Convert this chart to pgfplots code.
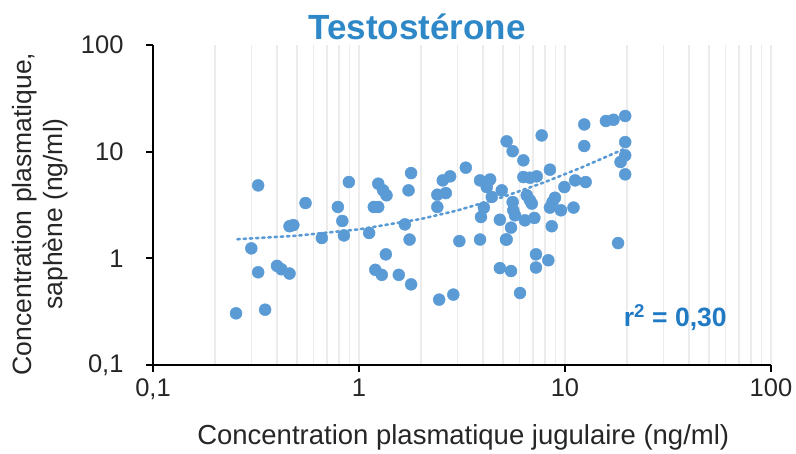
\documentclass[border=0pt]{standalone}
\usepackage{pgfplots}
\pgfplotsset{compat=1.18}
\usepackage{fontspec}
\setmainfont{Liberation Sans}
\definecolor{ptblue}{RGB}{91,155,213}
\definecolor{titleblue}{RGB}{46,136,199}
\definecolor{rblue}{RGB}{32,122,196}
\definecolor{gridgray}{RGB}{236,236,236}
\begin{document}
\begin{tikzpicture}
\path[use as bounding box] (0,0) rectangle (796pt,454pt);
\begin{axis}[
  at={(153pt,89pt)}, anchor=south west,
  scale only axis, width=618pt, height=320pt,
  xmode=log, ymode=log,
  xmin=0.1, xmax=100, ymin=0.1, ymax=100,
  axis x line*=bottom, axis y line*=left,
  axis line style={black, line width=2.2pt, -},
  xtick={0.1,1,10,100}, xticklabels={{0,1},1,10,100},
  ytick={0.1,1,10,100}, yticklabels={{0,1},1,10,100},
  minor xtick={0.2,0.3,0.4,0.5,0.6,0.7,0.8,0.9,2,3,4,5,6,7,8,9,20,30,40,50,60,70,80,90},
  minor ytick={},
  xminorgrids, xmajorgrids, ymajorgrids=false,
  grid style={gridgray, line width=1.3pt},
  minor grid style={gridgray, line width=1.3pt},
  tick style={black, line width=2pt},
  major tick length=7pt, minor tick length=0pt,
  tick align=outside,
  xtick pos=bottom, ytick pos=left,
  tick label style={font=\fontsize{25.5pt}{29pt}\selectfont, text=black!85},
  xticklabel style={yshift=-3pt},
  yticklabel style={xshift=-19pt},
  title={Testostérone},
  title style={font=\fontsize{35pt}{40pt}\selectfont\bfseries, text=titleblue, at={(axis description cs:0.427,1.037)}, anchor=center},
  xlabel={Concentration plasmatique jugulaire (ng/ml)},
  xlabel style={font=\fontsize{27.5pt}{31pt}\selectfont, text=black!85, at={(axis description cs:0.502,-0.225)}, anchor=center},
  ylabel={Concentration plasmatique,\\saphène (ng/ml)},
  ylabel style={font=\fontsize{26.5pt}{31pt}\selectfont, text=black!85, align=center, at={(axis description cs:-0.183,0.472)}, anchor=center},
  clip=false,
]
\addplot[only marks, mark=*, mark size=6pt, mark options={fill=ptblue, draw=ptblue}] coordinates {
(0.253,0.305) (0.324,4.83) (0.30,1.24) (0.324,0.74) (0.35,0.33)
(0.40,0.85) (0.42,0.79) (0.46,0.72) (0.46,2.00) (0.48,2.05)
(0.55,3.30) (0.66,1.55) (0.79,3.03) (0.83,2.24) (0.845,1.64)
(0.893,5.19) (1.12,1.73) (1.18,3.03) (1.24,3.03) (1.24,5.01)
(1.31,4.34) (1.36,3.90) (1.35,1.09) (1.20,0.78) (1.29,0.70)
(1.79,6.30) (1.74,4.34) (1.67,2.08) (1.76,1.50) (1.56,0.70)
(1.79,0.57) (2.45,0.41) (2.87,0.457) (3.07,1.45) (3.30,7.08)
(2.55,5.38) (2.77,5.87) (2.40,3.95) (2.64,4.09) (2.40,3.03)
(3.87,5.38) (4.33,5.49) (4.17,4.66) (4.41,3.76) (4.93,4.34)
(4.04,2.99) (3.91,2.44) (4.83,2.30) (3.87,1.50) (5.17,1.50)
(4.83,0.81) (12.4,18.0) (15.8,19.4) (17.2,19.9) (19.6,21.6)
(19.6,12.3) (19.6,9.23) (18.6,8.0) (19.6,6.13) (18.1,1.39)
(12.4,11.3) (7.71,14.2) (5.21,12.5) (5.57,10.1) (6.28,8.29)
(8.45,6.78) (6.28,5.78) (6.76,5.70) (7.29,5.87) (11.2,5.38)
(12.6,5.19) (9.93,4.66) (6.52,3.90) (6.76,3.50) (6.90,3.26)
(8.94,3.70) (8.70,3.37) (8.45,2.99) (5.57,3.37) (5.61,2.82)
(5.72,2.53) (11.0,2.99) (9.56,2.82) (6.39,2.27) (7.10,2.39)
(5.47,1.94) (8.62,2.00) (5.21,1.50) (7.23,1.09) (8.30,0.96)
(5.47,0.76) (7.23,0.82) (6.05,0.473)
};
\addplot[ptblue, line width=2.6pt, dash pattern=on 2.4pt off 3.8pt, line cap=round] coordinates {
(0.257,1.51) (0.5,1.63) (1,1.87) (2,2.34) (3,2.81) (5,3.76) (8,5.19) (12,7.09) (19.6,10.7)
};
\node[font=\fontsize{26.5pt}{30pt}\selectfont\bfseries, text=rblue, anchor=center] at (axis description cs:0.845,0.147) {r\textsuperscript{2} = 0,30};
\end{axis}
\end{tikzpicture}
\end{document}
